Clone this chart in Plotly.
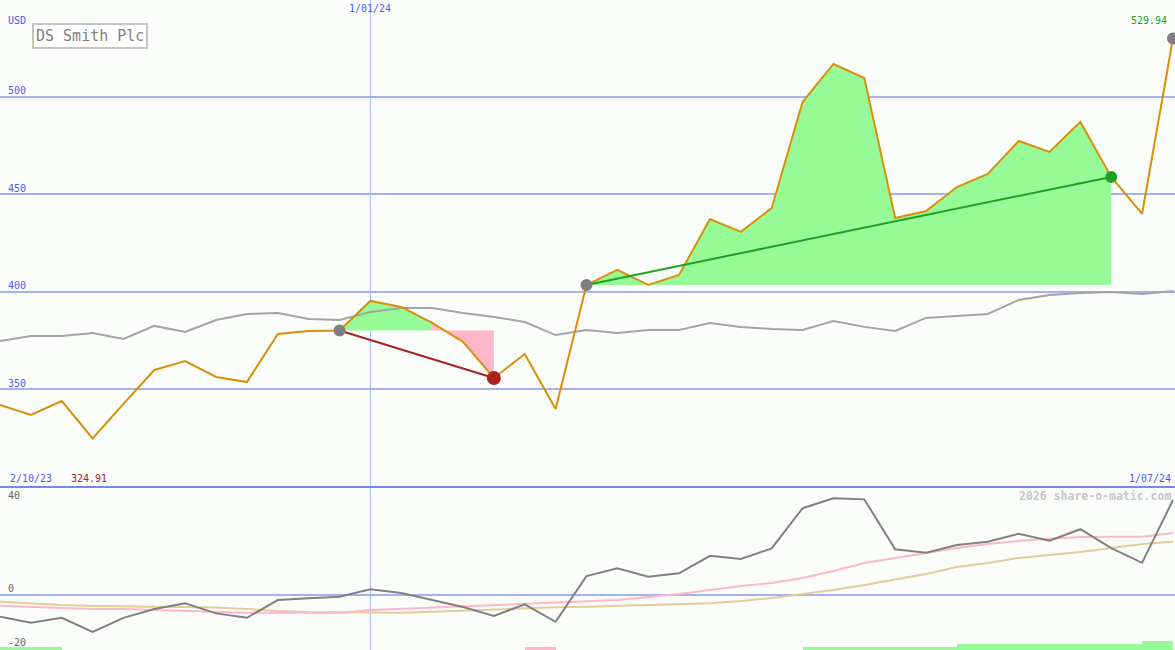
import pandas as pd
import plotly.graph_objects as go

# ---------------- data ----------------
dates = pd.date_range("2023-10-09", periods=39, freq="7D")

price = [342.1, 336.9, 344.1, 324.91, 342.6, 360.0, 364.6, 356.4, 353.8, 378.5,
         380.0, 380.2, 395.4, 392.3, 384.1, 374.4, 355.9, 368.2, 340.0, 403.6,
         411.3, 403.6, 408.7, 437.4, 430.8, 443.1, 497.4, 516.9, 509.7, 437.9,
         441.5, 453.8, 460.5, 477.4, 471.8, 487.2, 459.0, 440.0, 529.94]

moving_avg = [374.9, 377.4, 377.4, 379.0, 375.9, 382.6, 379.5, 385.6, 388.7, 389.2,
              386.2, 385.6, 389.7, 391.8, 391.8, 389.2, 387.2, 384.6, 377.9, 380.5,
              379.0, 380.5, 380.5, 384.1, 382.1, 381.0, 380.5, 385.1, 382.1, 380.0,
              386.7, 387.7, 388.7, 395.9, 398.5, 399.5, 400.0, 399.0, 400.5]

oscillator = [-9.4, -12.0, -9.9, -15.9, -9.9, -6.1, -3.7, -8.0, -9.9, -2.3,
              -1.5, -0.9, 2.3, 0.7, -2.3, -5.3, -9.1, -4.1, -11.6, 8.0,
              11.3, 7.7, 9.2, 16.7, 15.3, 19.9, 37.1, 41.4, 40.9, 19.5,
              18.0, 21.3, 22.7, 26.1, 23.2, 28.1, 20.0, 13.7, 40.6]

osc_fast = [-4.7, -5.3, -5.7, -6.1, -6.1, -6.6, -7.0, -7.4, -7.7, -7.7,
            -7.7, -7.7, -6.6, -6.1, -5.5, -4.8, -4.4, -4.0, -3.6, -2.9,
            -2.3, -1.0, 0.3, 2.0, 3.7, 5.0, 7.2, 10.2, 13.6, 15.8,
            18.0, 20.0, 21.8, 23.1, 24.0, 24.8, 24.9, 24.9, 26.5]

osc_slow = [-3.0, -3.8, -4.4, -4.8, -5.1, -5.1, -5.3, -5.5, -6.1, -7.0,
            -7.4, -7.6, -7.7, -7.7, -7.3, -6.8, -6.3, -5.6, -5.4, -5.1,
            -4.8, -4.4, -4.0, -3.6, -2.7, -1.4, 0.3, 2.0, 4.2, 6.7,
            8.9, 11.9, 13.6, 15.8, 17.0, 18.3, 20.0, 21.8, 22.7]

# signal strength per week (positive = buy / green, negative = sell / pink)
signal = [1, 1, 0, 0, 0, 0, 0, 0, 0, 0,
          0, 0, 0, 0, 0, 0, 0, -1, 0, 0,
          0, 0, 0, 0, 0, 0, 1, 1, 1, 1,
          1, 2, 2, 2, 2, 2, 2, 3, 0]

# trend segments: (start index, peak/turn index, end index)
down_start, down_turn, down_end = 11, 14, 16
up_start, up_end = 19, 36

top_ticks = [350, 400, 450, 500]
bottom_ticks = [40, 0, -20]

title = "DS Smith Plc"
currency = "USD"
start_label = "2/10/23"
end_label = "1/07/24"
mid_label = "1/01/24"
mid_date = "2024-01-01"
watermark = "2026 share-o-matic.com"

# ---------------- styling ----------------
W, H = 1175, 650
split = 1 - 487 / H
FONT = "DejaVu Sans Mono"
BG = "#fbfdfb"
GRID = "#a4b2f2"
BLUE_TXT = "#4a5cf0"
ORANGE = "#d8900a"
GREEN_FILL = "#96fa96"
PINK_FILL = "#ffb6c8"
DARK_RED = "#a82222"
GREEN = "#22a022"

fig = go.Figure()

# fills
lvl = price[down_start]
xs = list(dates[down_start:down_turn + 1]) + [dates[down_turn], dates[down_start]]
ys = price[down_start:down_turn + 1] + [lvl, lvl]
fig.add_trace(go.Scatter(x=xs, y=ys, fill="toself", fillcolor=GREEN_FILL,
                         line=dict(width=0), mode="lines", hoverinfo="skip"))
xs = list(dates[down_turn:down_end + 1]) + [dates[down_end], dates[down_turn]]
ys = price[down_turn:down_end + 1] + [lvl, lvl]
fig.add_trace(go.Scatter(x=xs, y=ys, fill="toself", fillcolor=PINK_FILL,
                         line=dict(width=0), mode="lines", hoverinfo="skip"))
lvl2 = price[up_start]
xs = list(dates[up_start:up_end + 1]) + [dates[up_end], dates[up_start]]
ys = price[up_start:up_end + 1] + [lvl2, lvl2]
fig.add_trace(go.Scatter(x=xs, y=ys, fill="toself", fillcolor=GREEN_FILL,
                         line=dict(width=0), mode="lines", hoverinfo="skip"))

# moving average & price
fig.add_trace(go.Scatter(x=dates, y=moving_avg, mode="lines",
                         line=dict(color="#a4a4a4", width=2)))
fig.add_trace(go.Scatter(x=dates, y=price, mode="lines",
                         line=dict(color=ORANGE, width=2)))

# trend lines
fig.add_trace(go.Scatter(x=[dates[down_start], dates[down_end]],
                         y=[price[down_start], price[down_end]], mode="lines",
                         line=dict(color=DARK_RED, width=2)))
fig.add_trace(go.Scatter(x=[dates[up_start], dates[up_end]],
                         y=[price[up_start], price[up_end]], mode="lines",
                         line=dict(color=GREEN, width=2)))

# markers
grey_idx = [down_start, up_start, len(price) - 1]
fig.add_trace(go.Scatter(x=[dates[i] for i in grey_idx], y=[price[i] for i in grey_idx],
                         mode="markers", marker=dict(color="#808080", size=12)))
fig.add_trace(go.Scatter(x=[dates[down_end]], y=[price[down_end]], mode="markers",
                         marker=dict(color=DARK_RED, size=14)))
fig.add_trace(go.Scatter(x=[dates[up_end]], y=[price[up_end]], mode="markers",
                         marker=dict(color=GREEN, size=12)))

# bottom panel
y2_range = [-23.7, 46.2]
bar_x = [d + pd.Timedelta(days=3.5) for d, s in zip(dates, signal) if s != 0]
bar_y = [abs(s) * 1.29 for s in signal if s != 0]
bar_c = [GREEN_FILL if s > 0 else PINK_FILL for s in signal if s != 0]
fig.add_trace(go.Bar(x=bar_x, y=bar_y, base=y2_range[0], marker=dict(color=bar_c, line=dict(width=0)),
                     width=7 * 24 * 3600 * 1000, yaxis="y2"))
fig.add_trace(go.Scatter(x=dates, y=osc_slow, mode="lines", yaxis="y2",
                         line=dict(color="#e2cc9c", width=2)))
fig.add_trace(go.Scatter(x=dates, y=osc_fast, mode="lines", yaxis="y2",
                         line=dict(color="#ffb6c8", width=2)))
fig.add_trace(go.Scatter(x=dates, y=oscillator, mode="lines", yaxis="y2",
                         line=dict(color="#808080", width=2)))

x_end = dates[-1] + pd.Timedelta(hours=11)

fig.update_layout(
    width=W, height=H, margin=dict(l=0, r=0, t=0, b=0),
    paper_bgcolor=BG, plot_bgcolor=BG, showlegend=False, bargap=0,
    font=dict(family=FONT, size=10, color=BLUE_TXT),
    xaxis=dict(range=[dates[0], x_end], showgrid=False, showticklabels=False,
               zeroline=False, ticks="", anchor="y2"),
    yaxis=dict(domain=[split, 1], range=[300, 549.7], tickvals=top_ticks,
               showticklabels=False, gridcolor=GRID, gridwidth=2, zeroline=False),
    yaxis2=dict(domain=[0, split], range=y2_range, tickvals=[0],
                showticklabels=False, gridcolor=GRID, gridwidth=2, zeroline=False),
)

# vertical date line and panel separator
fig.add_shape(type="line", xref="x", yref="paper", x0=mid_date, x1=mid_date, y0=0, y1=1,
              line=dict(color="#a8b6f8", width=1), layer="below")
fig.add_shape(type="line", xref="paper", yref="paper", x0=0, x1=1, y0=split, y1=split,
              line=dict(color="#7888e8", width=2))

ann = []
for t in top_ticks:
    ann.append(dict(x=6 / W, xref="paper", y=t, yref="y", text=str(t), showarrow=False,
                    xanchor="left", yanchor="middle", yshift=6,
                    font=dict(color=BLUE_TXT, size=10, family=FONT)))
for t in bottom_ticks:
    ann.append(dict(x=6 / W, xref="paper", y=t, yref="y2", text=str(t), showarrow=False,
                    xanchor="left", yanchor="middle", yshift=6 if t >= 0 else -1,
                    font=dict(color="#666666", size=10, family=FONT)))
ann += [
    dict(x=6 / W, y=1 - 21 / H, text=currency, font=dict(color=BLUE_TXT, size=10, family=FONT)),
    dict(x=32 / W, y=1 - 36.5 / H, text=title, bordercolor="#c4c4c4", borderwidth=2, borderpad=2,
         bgcolor="#ffffff", font=dict(color="#808080", size=15, family=FONT)),
    dict(x=mid_date, xref="x", y=1 - 9 / H, text=mid_label, xanchor="center",
         font=dict(color=BLUE_TXT, size=10, family=FONT)),
    dict(x=1169 / W, y=1 - 21 / H, text=f"{price[-1]:.2f}", xanchor="right",
         font=dict(color=GREEN, size=10, family=FONT)),
    dict(x=8 / W, y=1 - 478 / H, text=start_label, font=dict(color=BLUE_TXT, size=10, family=FONT)),
    dict(x=69 / W, y=1 - 478 / H, text=f"{min(price):.2f}", font=dict(color=DARK_RED, size=10, family=FONT)),
    dict(x=1173 / W, y=1 - 478 / H, text=end_label, xanchor="right",
         font=dict(color=BLUE_TXT, size=10, family=FONT)),
    dict(x=1173 / W, y=1 - 496 / H, text=f"<b>{watermark}</b>", xanchor="right",
         font=dict(color="#c6c6c6", size=11.5, family=FONT)),
]
for a in ann:
    a.setdefault("xref", "paper")
    a.setdefault("yref", "paper")
    a.setdefault("showarrow", False)
    a.setdefault("xanchor", "left")
    a.setdefault("yanchor", "middle")
fig.update_layout(annotations=ann)

fig.write_html("out.html", config={"displayModeBar": False},
               post_script="document.body.style.margin='0';document.body.style.overflow='hidden';")
